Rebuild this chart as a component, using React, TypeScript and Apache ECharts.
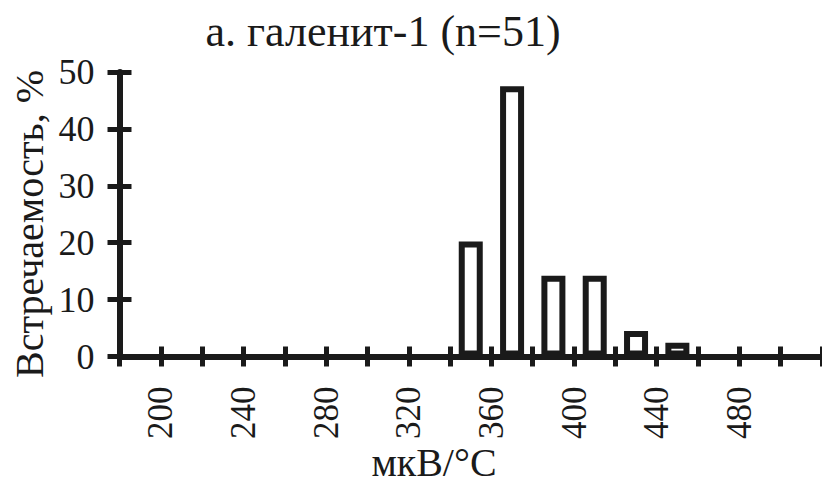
import React, { useEffect, useRef } from "react";
import * as echarts from "echarts";

const titleText = "а. галенит-1 (n=51)";
const yAxisTitle = "Встречаемость, %";
const xAxisTitle = "мкВ/°C";
const binCenters = [350, 370, 390, 410, 430, 450];
const frequency = [20.2, 47.5, 14.2, 14.2, 4.5, 2.4];
const xTickLabels = [200, 240, 280, 320, 360, 400, 440, 480];
const xMin = 180;
const xMax = 520;
const xStep = 20;
const yMin = 0;
const yMax = 50;
const yStep = 10;

const INK = "#1a1a1a";
const FONT = "Times New Roman, Liberation Serif, DejaVu Serif, serif";

export default function App() {
  const ref = useRef<HTMLDivElement>(null);
  useEffect(() => {
    if (!ref.current) return;
    const chart = echarts.init(ref.current, null, { renderer: "svg" });
    const baseX = {
      type: "value",
      min: xMin,
      max: xMax,
      interval: xStep,
      position: "bottom",
      splitLine: { show: false },
    };
    const baseY = {
      type: "value",
      min: yMin,
      max: yMax,
      interval: yStep,
      position: "left",
      splitLine: { show: false },
    };
    chart.setOption({
      animation: false,
      backgroundColor: "#ffffff",
      textStyle: { fontFamily: FONT },
      grid: { left: 119.5, right: -3.5, top: 72, bottom: 127.5, containLabel: false },
      xAxis: [
        {
          ...baseX,
          axisLine: { show: true, lineStyle: { color: INK, width: 6 } },
          axisTick: { show: true, inside: false, length: 10, lineStyle: { color: INK, width: 5 } },
          axisLabel: {
            show: true,
            rotate: 90,
            margin: 30,
            fontFamily: FONT,
            fontSize: 35,
            color: INK,
            formatter: (v: number) => (xTickLabels.includes(v) ? String(v) : ""),
          },
        },
        {
          ...baseX,
          axisLine: { show: false },
          axisTick: { show: true, inside: true, length: 10, lineStyle: { color: INK, width: 5 } },
          axisLabel: { show: false },
        },
      ],
      yAxis: [
        {
          ...baseY,
          axisLine: { show: true, lineStyle: { color: INK, width: 6 } },
          axisTick: { show: true, inside: false, length: 12, lineStyle: { color: INK, width: 5 } },
          axisLabel: { show: true, margin: 25, fontFamily: FONT, fontSize: 36, color: INK },
        },
        {
          ...baseY,
          axisLine: { show: false },
          axisTick: { show: true, inside: true, length: 12, lineStyle: { color: INK, width: 5 } },
          axisLabel: { show: false },
        },
      ],
      graphic: [
        {
          type: "text",
          x: 383,
          y: 31,
          style: {
            text: titleText,
            fontFamily: FONT,
            fontSize: 44,
            fill: INK,
            textAlign: "center",
            textVerticalAlign: "middle",
          },
        },
        {
          type: "text",
          x: 29,
          y: 224,
          rotation: Math.PI / 2,
          style: {
            text: yAxisTitle,
            fontFamily: FONT,
            fontSize: 40,
            fill: INK,
            textAlign: "center",
            textVerticalAlign: "middle",
          },
        },
        {
          type: "text",
          x: 434,
          y: 462,
          style: {
            text: xAxisTitle,
            fontFamily: FONT,
            fontSize: 40,
            fill: INK,
            textAlign: "center",
            textVerticalAlign: "middle",
          },
        },
      ],
      series: [
        {
          type: "bar",
          xAxisIndex: 0,
          yAxisIndex: 0,
          barWidth: 24,
          data: binCenters.map((c, i) => [c, frequency[i]]),
          itemStyle: { color: "#ffffff", borderColor: INK, borderWidth: 6 },
        },
      ],
    });
    return () => chart.dispose();
  }, []);
  return (
    <div
      ref={ref}
      style={{ position: "absolute", left: 0, top: 0, width: 822, height: 484, overflow: "hidden" }}
    />
  );
}
